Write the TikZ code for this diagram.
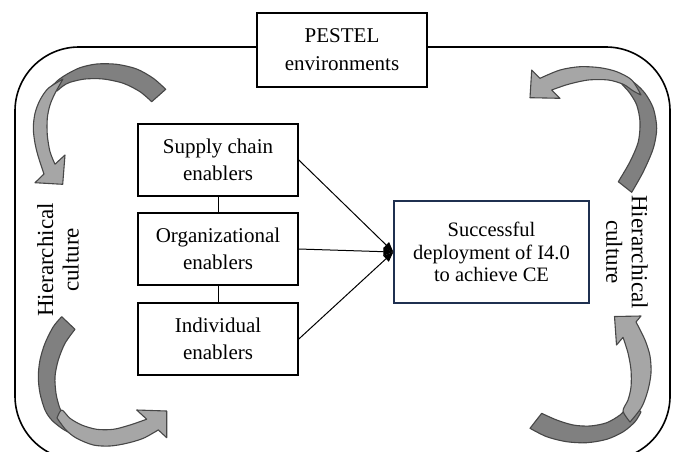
\documentclass[tikz,border=0pt]{standalone}
\usepackage{fontspec}
\setmainfont{Liberation Serif}
\usetikzlibrary{arrows.meta}
\definecolor{bandback}{HTML}{808080}
\definecolor{bandfront}{HTML}{A6A6A6}
\definecolor{bandline}{HTML}{474747}
\definecolor{navy}{HTML}{1F3050}
\tikzset{
  box/.style={draw=black, line width=1.6pt, fill=white, minimum width=160pt,
    minimum height=72pt, align=center, inner sep=0pt,
    font=\fontsize{21}{27}\selectfont},
  backband/.style={fill=bandback, draw=bandline, line width=1.1pt, line join=round},
  frontband/.style={fill=bandfront, draw=bandline, line width=1.1pt, line join=round},
  flow/.style={line width=1pt, -{Triangle[length=10pt,width=8pt]}},
  culture/.style={align=center, font=\fontsize{23}{25.5}\selectfont}
}
\begin{document}
\begin{tikzpicture}[x=1pt,y=-1pt]
\useasboundingbox (0,0) rectangle (676,451);

% surrounding frame
\draw[line width=1.6pt, rounded corners=64pt] (15,47) rectangle (670,460);

% environment box on the frame
\node[box, minimum width=170pt, minimum height=74pt,
      font=\fontsize{21}{28}\selectfont] (pestel) at (342,50) {PESTEL\\environments};

% enablers
\node[box] (supply) at (218,160) {Supply chain\\enablers};
\node[box] (org)    at (218,249) {Organizational\\enablers};
\node[box] (indiv)  at (218,339) {Individual\\enablers};
\draw[line width=1pt] (supply) -- (org);
\draw[line width=1pt] (org) -- (indiv);

% outcome
\node[draw=navy, line width=1.3pt, minimum width=195pt, minimum height=102pt,
      align=center, inner sep=0pt, font=\fontsize{20.5}{22.8}\selectfont]
      (succ) at (491.5,252) {Successful\\deployment of I4.0\\to achieve CE};

\draw[flow] (supply.east) -- (succ.west);
\draw[flow] (org.east) -- (succ.west);
\draw[flow] (indiv.east) -- (succ.west);

% culture labels
\node[culture, rotate=90]  (cultL) at (58,260) {Hierarchical\\culture};
\node[culture, rotate=-90] (cultR) at (627,252) {Hierarchical\\culture};

% curved arrow, top left
\filldraw[backband] plot[smooth] coordinates {(165.7,89.3) (153.3,78.3) (136.7,69) (116.7,64.3) (96.7,64) (80,67.7) (66.7,74.3) (58.3,80) (50,88)}
  -- plot[smooth] coordinates {(57,91) (63,86) (70,82.3) (85,79) (103.3,79) (123.3,83.3) (140,91.7) (151.7,101.7)} -- cycle;
\filldraw[frontband] plot[smooth] coordinates {(63,79) (48.3,88.3) (40,100) (35,113.3) (33.3,128.3) (35,143.3) (38.3,156.7) (44,174)}
  -- (35,182.7) -- (62.7,184.3) -- (65,155)
  -- plot[smooth] coordinates {(55,164.2) (50,151.7) (47.3,135) (47.3,118.3) (50,105) (55,93.3) (63,79)} -- cycle;

% curved arrow, bottom left
\filldraw[backband] plot[smooth] coordinates {(61.7,316.7) (53.3,326.7) (45,343.3) (40,360) (38.3,376.7) (40,393.3) (45,410) (51.7,420) (61.7,428.3) (70,433)}
  -- plot[smooth] coordinates {(68,424) (63,415) (59.3,406.7) (56,393.3) (55,376.7) (58.3,360) (65,343.3) (75,329.3)} -- cycle;
\filldraw[frontband] plot[smooth] coordinates {(57,418) (66,430) (76.7,438.3) (93.3,445) (110,446) (126.7,443.3) (143.3,438.3) (158.3,429.9)}
  -- (166.7,437.7) -- (166.7,411) -- (136.7,410)
  -- plot[smooth] coordinates {(146.7,419.2) (130,425) (113.3,429.3) (96.7,429.3) (81.7,425) (70,418.3) (61.7,410) (57,418)} -- cycle;

% curved arrow, top right
\filldraw[backband] plot[smooth] coordinates {(631.7,192.3) (643.3,171.7) (653.3,148.3) (656.7,128.3) (653.3,108.3) (645,93.3) (635,83.3) (625,77.7) (617,76)}
  -- plot[smooth] coordinates {(620,82) (625,87.5) (630,93.3) (636.7,105) (640,121.7) (638.3,141.7) (630,161.7) (618.3,181.7)} -- cycle;
\filldraw[frontband] plot[smooth] coordinates {(641,95) (631.7,80) (616.7,71.7) (600,67.7) (580,66.7) (560,70) (540,78.3)}
  -- (531.7,70) -- (530,97.7) -- (560,98.3)
  -- plot[smooth] coordinates {(551.7,90) (568.3,84.3) (588.3,80) (608.3,80) (623.3,84.3) (633.3,91) (641,95)} -- cycle;

% curved arrow, bottom right
\filldraw[backband] plot[smooth] coordinates {(530,428.3) (546.7,436.7) (566.7,441.7) (586.7,442.7) (606.7,439.3) (623.3,431.7) (635,421.7) (641,412)}
  -- plot[smooth] coordinates {(634,405) (628.3,406.7) (620,415) (606.7,422.7) (590,426) (573.3,425) (556.7,420) (541.7,413.3)} -- cycle;
\filldraw[frontband] plot[smooth] coordinates {(630,422) (641.7,407) (648,390) (651,373) (650,356) (645,340) (636,321.9)}
  -- (641,316) -- (614.5,316.5) -- (616.5,345)
  -- plot[smooth] coordinates {(623,337.3) (628,353) (631,370) (631,387) (628,400) (623,411) (630,422)} -- cycle;
\end{tikzpicture}
\end{document}
